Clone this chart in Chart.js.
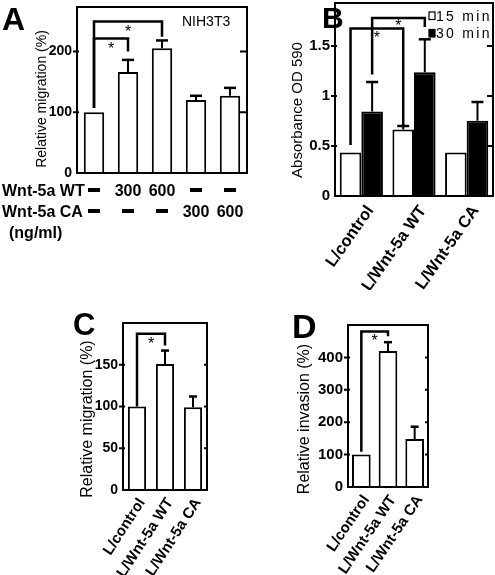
<!DOCTYPE html>
<html>
<head>
<meta charset="utf-8">
<script src="https://cdn.jsdelivr.net/npm/chart.js@4"></script>
<style>
  body { margin: 0; background: #fff; }
  #wrap { position: relative; width: 495px; height: 575px; }
  canvas { position: absolute; }
</style>
</head>
<body>
<div id="wrap">
  <canvas id="cA" width="250" height="245" style="left:0;top:0"></canvas>
  <canvas id="cB" width="250" height="290" style="left:245px;top:0"></canvas>
  <canvas id="cC" width="250" height="285" style="left:0;top:290px"></canvas>
  <canvas id="cD" width="250" height="285" style="left:245px;top:290px"></canvas>
</div>
<script>
const FONT = "'Liberation Sans', Arial, sans-serif";

// A - NIH3T3 migration
const groupsA = ['ctrl', 'WT 300', 'WT 600', 'CA 300', 'CA 600'];
const migA = [100, 166, 205, 120, 127];
const errA = [0, 20, 13, 7, 13];
const wtDose = ['-', '300', '600', '-', '-'];
const caDose = ['-', '-', '-', '300', '600'];
const ticksA = [0, 100, 200];

// B - absorbance
const cells = ['L/control', 'L/Wnt-5a WT', 'L/Wnt-5a CA'];
const abs15 = [0.435, 0.665, 0.435];
const err15 = [0, 0.035, 0];
const abs30 = [0.845, 1.237, 0.753];
const err30 = [0.295, 0.33, 0.187];
const ticksB = [0, 0.5, 1, 1.5];

// C - migration
const migC = [100, 151, 99];
const errC = [0, 16, 13];
const ticksC = [0, 50, 100, 150];

// D - invasion
const invD = [100, 420, 148];
const errD = [0, 27, 38];
const ticksD = [0, 100, 200, 300, 400];

// brackets: [dataset, from bar, to bar, left start, top, right end, star]
const sigA = [[0, 0, 1, 107, 221, 200, 211], [0, 0, 2, 107, 249, 224, 239]];
const sigB = [[0, 0, 1, 0.51, 1.675, 0.71, 1.62], [1, 0, 1, 1.216, 1.78, 1.69, 1.74]];
const sigC = [[0, 0, 1, 100, 187, 173, 180]];
const sigD = [[0, 0, 1, 109, 480, 465, 463]];

const panelPlugin = {
  id: 'panel',
  afterDatasetsDraw(chart, args, o) {
    const ctx = chart.ctx, a = chart.chartArea;
    const y = chart.scales.y;
    ctx.save();
    ctx.strokeStyle = '#000';
    ctx.fillStyle = '#000';
    // error bars (upper only)
    o.errors.forEach((errs, di) => {
      const vals = chart.data.datasets[di].data;
      chart.getDatasetMeta(di).data.forEach((bar, j) => {
        if (!errs[j]) return;
        const y0 = y.getPixelForValue(vals[j]);
        const y1 = y.getPixelForValue(vals[j] + errs[j]);
        ctx.lineWidth = 2;
        ctx.beginPath(); ctx.moveTo(bar.x, y0); ctx.lineTo(bar.x, y1); ctx.stroke();
        ctx.lineWidth = 2.5;
        ctx.beginPath(); ctx.moveTo(bar.x - o.cap / 2, y1); ctx.lineTo(bar.x + o.cap / 2, y1); ctx.stroke();
      });
    });
    // significance brackets
    o.sig.forEach(([di, i0, i1, s, t, e, st]) => {
      const m = chart.getDatasetMeta(di).data;
      const x0 = m[i0].x, x1 = m[i1].x;
      ctx.lineWidth = 2.5;
      ctx.beginPath();
      ctx.moveTo(x0, y.getPixelForValue(s));
      ctx.lineTo(x0, y.getPixelForValue(t));
      ctx.lineTo(x1, y.getPixelForValue(t));
      ctx.lineTo(x1, y.getPixelForValue(e));
      ctx.stroke();
      ctx.font = '16px ' + FONT;
      ctx.textAlign = 'center';
      ctx.textBaseline = 'alphabetic';
      ctx.fillText('*', (x0 + x1) / 2, y.getPixelForValue(st) + 9);
    });
    // frame and tick marks
    ctx.lineWidth = 2;
    ctx.strokeRect(a.left, a.top, a.right - a.left, a.bottom - a.top);
    y.ticks.forEach(t => {
      if (t.value === 0) return;
      const py = y.getPixelForValue(t.value);
      ctx.beginPath();
      ctx.moveTo(a.left - 4, py); ctx.lineTo(a.left + 2, py);
      ctx.moveTo(a.right - o.tickIn, py); ctx.lineTo(a.right, py);
      ctx.stroke();
    });
    ctx.restore();
  },
  afterDraw(chart, args, o) {
    const ctx = chart.ctx;
    ctx.save();
    ctx.fillStyle = '#000';
    ctx.strokeStyle = '#000';
    ctx.textBaseline = 'alphabetic';
    ctx.textAlign = 'left';
    ctx.font = 'bold ' + o.letterSize + 'px ' + FONT;
    ctx.fillText(o.letter, o.letterX, o.letterY);
    // y title
    ctx.save();
    ctx.translate(o.titleX, o.titleY);
    ctx.rotate(-Math.PI / 2);
    ctx.font = o.titleSize + 'px ' + FONT;
    ctx.textAlign = 'center';
    ctx.textBaseline = 'middle';
    ctx.fillText(o.title, 0, 0);
    ctx.restore();
    if (o.note) {
      ctx.font = '14px ' + FONT;
      ctx.fillText(o.note, 182, 26);
    }
    if (o.table) {
      const x = chart.scales.x;
      ctx.font = 'bold 16px ' + FONT;
      ctx.fillText('Wnt-5a WT', 2, 196);
      ctx.fillText('Wnt-5a CA', 2, 217);
      ctx.fillText('(ng/ml)', 9, 238);
      ctx.textAlign = 'center';
      [[wtDose, 196], [caDose, 217]].forEach(([row, by]) => {
        row.forEach((v, i) => {
          const px = x.getPixelForValue(i);
          if (v === '-') ctx.fillRect(px - 6, by - 8, 12, 4);
          else ctx.fillText(v, px, by);
        });
      });
    }
    if (o.legend) {
      ctx.font = '14px ' + FONT;
      ctx.letterSpacing = '2.3px';
      chart.data.datasets.forEach((ds, i) => {
        const top = 12 + i * 17.5;
        ctx.fillStyle = ds.backgroundColor;
        ctx.fillRect(184, top, 6, 7.5);
        ctx.lineWidth = 1.2;
        ctx.strokeRect(184, top, 6, 7.5);
        ctx.fillStyle = '#000';
        ctx.fillText(ds.label, 191, top + 8.5);
      });
      ctx.letterSpacing = '0px';
    }
    ctx.restore();
  }
};

function yAxis(max, tickVals, width, size) {
  return {
    min: 0, max: max,
    afterBuildTicks: s => { s.ticks = tickVals.map(v => ({ value: v })); },
    afterFit: s => { s.width = width; s.paddingTop = 0; s.paddingBottom = 0; },
    grid: { display: false, drawTicks: false },
    border: { display: false },
    ticks: {
      color: '#000', padding: 5, callback: v => String(v),
      font: { family: FONT, size: size, weight: 'bold' }
    }
  };
}

function xAxis(height, showLabels, size, rot, shift, pad) {
  return {
    afterFit: s => { s.height = height; s.paddingLeft = 0; s.paddingRight = 0; },
    grid: { display: false, drawTicks: false },
    border: { display: false },
    ticks: {
      display: showLabels, color: '#000', autoSkip: false,
      minRotation: rot, maxRotation: rot, padding: pad, labelOffset: shift,
      font: { family: FONT, size: size, weight: 'bold' }
    }
  };
}

function makeChart(id, labels, datasets, pad, scales, panel) {
  return new Chart(document.getElementById(id), {
    type: 'bar',
    data: { labels: labels, datasets: datasets },
    options: {
      responsive: false,
      animation: false,
      layout: { padding: pad, autoPadding: false },
      scales: scales,
      plugins: { legend: { display: false }, tooltip: { enabled: false }, panel: panel }
    },
    plugins: [panelPlugin]
  });
}

const whiteBar = { backgroundColor: '#fff', borderColor: '#000', borderWidth: 2, categoryPercentage: 1 };

makeChart('cA', groupsA,
  [Object.assign({ data: migA, barPercentage: 0.6 }, whiteBar)],
  { left: 0, top: 7, right: 3, bottom: 0 },
  { x: xAxis(72, false, 15, 0, 0, 0), y: yAxis(273, ticksA, 77, 14) },
  { errors: [errA], sig: sigA, cap: 12, tickIn: 7, letter: 'A', letterSize: 32, letterX: 2, letterY: 30,
    title: 'Relative migration (%)', titleSize: 14, titleX: 42, titleY: 99, note: 'NIH3T3', table: true });

makeChart('cB', cells,
  [
    { label: '15 min', data: abs15, backgroundColor: '#fff', borderColor: '#000', borderWidth: 2, categoryPercentage: 0.82, barPercentage: 1 },
    { label: '30 min', data: abs30, backgroundColor: '#000', borderColor: '#000', borderWidth: 2, categoryPercentage: 0.82, barPercentage: 1 }
  ],
  { left: 0, top: 3, right: 2, bottom: 0 },
  { x: xAxis(94, true, 16.5, 55, 9, 6), y: yAxis(1.93, ticksB, 90, 15) },
  { errors: [err15, err30], sig: sigB, cap: 12, tickIn: 6, letter: 'B', letterSize: 30, letterX: 77, letterY: 28,
    title: 'Absorbance OD 590', titleSize: 15, titleX: 53, titleY: 110, legend: true });

makeChart('cC', cells,
  [Object.assign({ data: migC, barPercentage: 0.65 }, whiteBar)],
  { left: 0, top: 33, right: 43, bottom: 0 },
  { x: xAxis(85, true, 15, 57, 5, 5), y: yAxis(200, ticksC, 123, 14) },
  { errors: [errC], sig: sigC, cap: 8, tickIn: 3, letter: 'C', letterSize: 31, letterX: 73, letterY: 45,
    title: 'Relative migration (%)', titleSize: 16, titleX: 88, titleY: 129 });

makeChart('cD', cells,
  [Object.assign({ data: invD, barPercentage: 0.7 }, whiteBar)],
  { left: 0, top: 35, right: 67, bottom: 0 },
  { x: xAxis(88, true, 15, 56, 5, 5), y: yAxis(500, ticksD, 103, 15) },
  { errors: [errD], sig: sigD, cap: 8, tickIn: 3, letter: 'D', letterSize: 34, letterX: 47, letterY: 48,
    title: 'Relative invasion (%)', titleSize: 16, titleX: 60, titleY: 129 });
</script>
</body>
</html>
